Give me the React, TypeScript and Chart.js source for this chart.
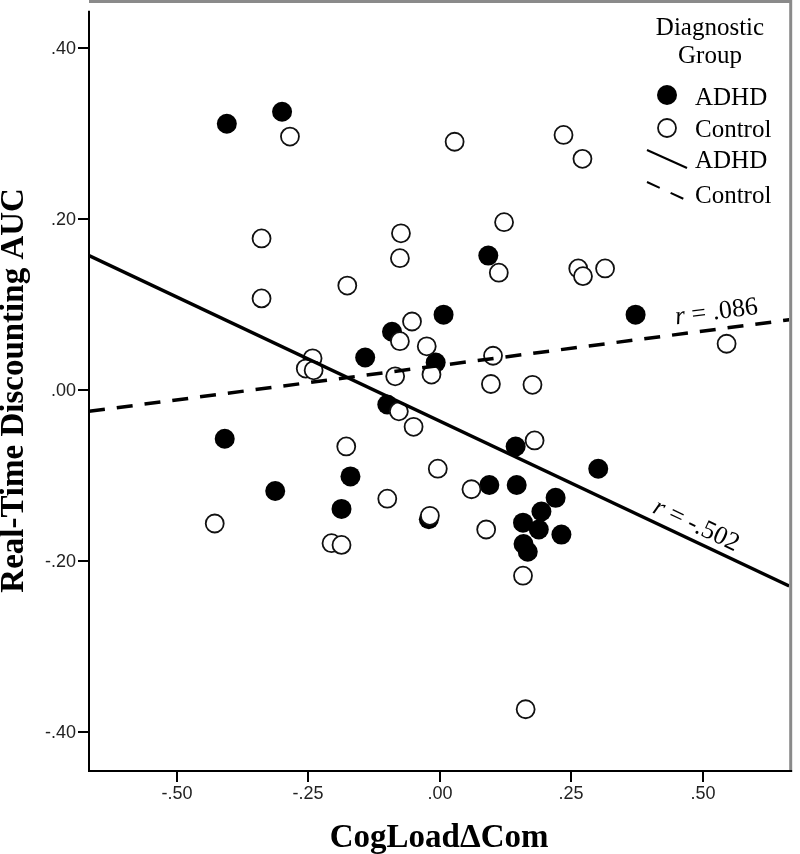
import React, { useEffect, useRef } from "react";
import { Chart, registerables } from "chart.js";

Chart.register(...registerables);

// ---- data ----
const adhdX = [-0.405, -0.300, 0.092, 0.372, 0.007, -0.142, -0.091, -0.008, -0.100, -0.409, -0.170, -0.313, -0.187, 0.144, 0.301, 0.094, 0.146, 0.220, 0.193, 0.158, 0.188, 0.231, 0.159, 0.167, -0.021];
const adhdY = [0.311, 0.325, 0.157, 0.088, 0.088, 0.038, 0.068, 0.032, -0.017, -0.057, -0.101, -0.118, -0.139, -0.066, -0.092, -0.111, -0.111, -0.126, -0.142, -0.155, -0.163, -0.169, -0.180, -0.189, -0.151];

const controlX = [-0.285, -0.339, -0.339, -0.176, -0.074, -0.076, 0.028, 0.235, 0.271, 0.122, 0.112, 0.263, 0.272, 0.314, 0.545, -0.242, -0.255, -0.240, -0.076, -0.053, -0.025, -0.016, -0.085, -0.078, -0.050, 0.101, 0.097, 0.176, 0.180, -0.004, 0.060, -0.019, 0.088, -0.178, -0.100, -0.428, -0.206, -0.187, 0.158, 0.163];
const controlY = [0.296, 0.177, 0.107, 0.122, 0.183, 0.154, 0.290, 0.298, 0.270, 0.196, 0.137, 0.142, 0.133, 0.142, 0.054, 0.037, 0.025, 0.023, 0.057, 0.080, 0.051, 0.018, 0.016, -0.025, -0.043, 0.040, 0.007, 0.006, -0.059, -0.092, -0.116, -0.147, -0.163, -0.066, -0.127, -0.156, -0.179, -0.181, -0.217, -0.373];

// fit lines (values at the x-range ends)
const fitX = [-0.667, 0.664];
const adhdFitY = [0.157, -0.229];
const controlFitY = [-0.025, 0.082];

const xRange = [-0.667, 0.664];
const yRange = [-0.444, 0.443];
const xTicks = [-0.5, -0.25, 0, 0.25, 0.5];
const yTicks = [0.4, 0.2, 0, -0.2, -0.4];

const xTitle = "CogLoadΔCom";
const yTitle = "Real-Time Discounting AUC";
const legendTitle = ["Diagnostic", "Group"];
const groupNames = ["ADHD", "Control"];
const adhdR = " = -.502";
const controlR = " = .086";
const adhdLabelAt = 0.475;
const controlLabelAt = 0.53;

function fmt(v: number): string {
  if (Math.abs(v) < 1e-9) return ".00";
  const s = Math.abs(v).toFixed(2).replace(/^0/, "");
  return (v < 0 ? "-" : "") + s;
}

function interp(xs: number[], ys: number[], x: number) {
  const t = (x - xs[0]) / (xs[1] - xs[0]);
  return ys[0] + t * (ys[1] - ys[0]);
}

const overlay = {
  id: "overlay",
  beforeDraw(chart: any) {
    const ctx = chart.ctx;
    ctx.save();
    ctx.fillStyle = "#fff";
    ctx.fillRect(0, 0, chart.width, chart.height);
    ctx.restore();
  },
  afterDraw(chart: any) {
    const ctx = chart.ctx as CanvasRenderingContext2D;
    const a = chart.chartArea;
    const xs = chart.scales.x;
    const ys = chart.scales.y;
    ctx.save();

    // gray frame top/right
    ctx.strokeStyle = "#8a8a8a";
    ctx.lineWidth = 3;
    ctx.beginPath();
    ctx.moveTo(a.left, 1.5);
    ctx.lineTo(a.right + 1.5, 1.5);
    ctx.lineTo(a.right + 1.5, a.bottom);
    ctx.stroke();

    // axes lines
    ctx.strokeStyle = "#000";
    ctx.lineWidth = 2;
    ctx.beginPath();
    ctx.moveTo(a.left, a.top);
    ctx.lineTo(a.left, a.bottom + 1);
    ctx.lineTo(a.right + 3, a.bottom + 1);
    ctx.stroke();

    // ticks and labels
    ctx.fillStyle = "#222";
    ctx.font = "18px 'Liberation Sans'";
    ctx.textBaseline = "middle";
    ctx.textAlign = "right";
    yTicks.forEach((v) => {
      const y = Math.round(ys.getPixelForValue(v));
      ctx.beginPath();
      ctx.moveTo(a.left - 11, y);
      ctx.lineTo(a.left, y);
      ctx.stroke();
      ctx.fillText(fmt(v), a.left - 13, y + 1.5);
    });
    ctx.textAlign = "center";
    xTicks.forEach((v) => {
      const x = Math.round(xs.getPixelForValue(v));
      ctx.beginPath();
      ctx.moveTo(x, a.bottom + 1);
      ctx.lineTo(x, a.bottom + 12);
      ctx.stroke();
      ctx.fillText(fmt(v), x, a.bottom + 24);
    });

    ctx.fillStyle = "#000";
    ctx.strokeStyle = "#000";

    // axis titles
    ctx.font = "bold 33px 'Liberation Serif'";
    ctx.textBaseline = "alphabetic";
    ctx.textAlign = "center";
    ctx.fillText(xTitle, (a.left + a.right) / 2, 847);
    ctx.save();
    ctx.translate(23, (a.top + a.bottom) / 2);
    ctx.rotate(-Math.PI / 2);
    ctx.fillText(yTitle, 0, 0);
    ctx.restore();

    // r labels along the fit lines
    const drawR = (xv: number, fy: number[], rest: string, off: number) => {
      const p0x = xs.getPixelForValue(fitX[0]);
      const p0y = ys.getPixelForValue(fy[0]);
      const p1x = xs.getPixelForValue(fitX[1]);
      const p1y = ys.getPixelForValue(fy[1]);
      const ang = Math.atan2(p1y - p0y, p1x - p0x);
      const px = xs.getPixelForValue(xv);
      const py = ys.getPixelForValue(interp(fitX, fy, xv));
      ctx.save();
      ctx.translate(px, py);
      ctx.rotate(ang);
      ctx.textAlign = "left";
      ctx.textBaseline = "alphabetic";
      ctx.font = "italic 26px 'Liberation Serif'";
      const w1 = ctx.measureText("r").width;
      ctx.font = "26px 'Liberation Serif'";
      const w2 = ctx.measureText(rest).width;
      const start = -(w1 + w2) / 2;
      ctx.font = "italic 26px 'Liberation Serif'";
      ctx.fillText("r", start, -off);
      ctx.font = "26px 'Liberation Serif'";
      ctx.fillText(rest, start + w1, -off);
      ctx.restore();
    };
    drawR(adhdLabelAt, adhdFitY, adhdR, 8);
    drawR(controlLabelAt, controlFitY, controlR, 10);

    // legend
    ctx.font = "25px 'Liberation Serif'";
    ctx.textAlign = "center";
    ctx.textBaseline = "alphabetic";
    ctx.fillText(legendTitle[0], 710, 35);
    ctx.fillText(legendTitle[1], 710, 63);
    ctx.textAlign = "left";
    ctx.beginPath();
    ctx.arc(667, 95, 10, 0, Math.PI * 2);
    ctx.fill();
    ctx.fillText(groupNames[0], 695, 105);
    ctx.beginPath();
    ctx.arc(667, 128, 9, 0, Math.PI * 2);
    ctx.fillStyle = "#fff";
    ctx.fill();
    ctx.lineWidth = 1.8;
    ctx.strokeStyle = "#111";
    ctx.stroke();
    ctx.fillStyle = "#000";
    ctx.fillText(groupNames[1], 695, 137);
    ctx.strokeStyle = "#000";
    ctx.lineWidth = 2;
    ctx.beginPath();
    ctx.moveTo(647, 150);
    ctx.lineTo(687, 168);
    ctx.stroke();
    ctx.fillText(groupNames[0], 695, 168);
    ctx.setLineDash([14, 12]);
    ctx.beginPath();
    ctx.moveTo(647, 182);
    ctx.lineTo(686, 200);
    ctx.stroke();
    ctx.setLineDash([]);
    ctx.fillText(groupNames[1], 695, 203);

    ctx.restore();
  },
};

export default function App() {
  const ref = useRef<HTMLCanvasElement | null>(null);
  useEffect(() => {
    document.body.style.margin = "0";
    const canvas = ref.current;
    if (!canvas) return;
    Chart.defaults.font.family = "'Liberation Sans'";
    const chart = new Chart(canvas, {
      type: "scatter",
      data: {
        datasets: [
          {
            type: "line",
            label: "ADHD fit",
            data: fitX.map((x, i) => ({ x, y: adhdFitY[i] })),
            borderColor: "#000",
            borderWidth: 3.5,
            pointRadius: 0,
            fill: false,
            order: 0,
          } as any,
          {
            type: "line",
            label: "Control fit",
            data: fitX.map((x, i) => ({ x, y: controlFitY[i] })),
            borderColor: "#000",
            borderWidth: 3.5,
            borderDash: [16, 12],
            pointRadius: 0,
            fill: false,
            order: 0,
          } as any,
          {
            label: groupNames[1],
            data: controlX.map((x, i) => ({ x, y: controlY[i] })),
            pointRadius: 9,
            pointBorderWidth: 1.8,
            pointBackgroundColor: "#fff",
            pointBorderColor: "#111",
            backgroundColor: "#fff",
            borderColor: "#111",
            order: 1,
          },
          {
            label: groupNames[0],
            data: adhdX.map((x, i) => ({ x, y: adhdY[i] })),
            pointRadius: 10,
            pointBorderWidth: 0,
            pointBackgroundColor: "#000",
            pointBorderColor: "#000",
            backgroundColor: "#000",
            borderColor: "#000",
            order: 2,
          },
        ],
      },
      options: {
        animation: false,
        responsive: false,
        devicePixelRatio: 1,
        layout: { padding: { top: 2, right: 4, left: 89, bottom: 84 } },
        plugins: { legend: { display: false }, tooltip: { enabled: false } },
        scales: {
          x: { type: "linear", display: false, min: xRange[0], max: xRange[1] },
          y: { type: "linear", display: false, min: yRange[0], max: yRange[1] },
        },
      },
      plugins: [overlay],
    });
    return () => chart.destroy();
  }, []);
  return (
    <div style={{ width: 800, height: 854 }}>
      <canvas ref={ref} width={800} height={854} style={{ display: "block" }} />
    </div>
  );
}
